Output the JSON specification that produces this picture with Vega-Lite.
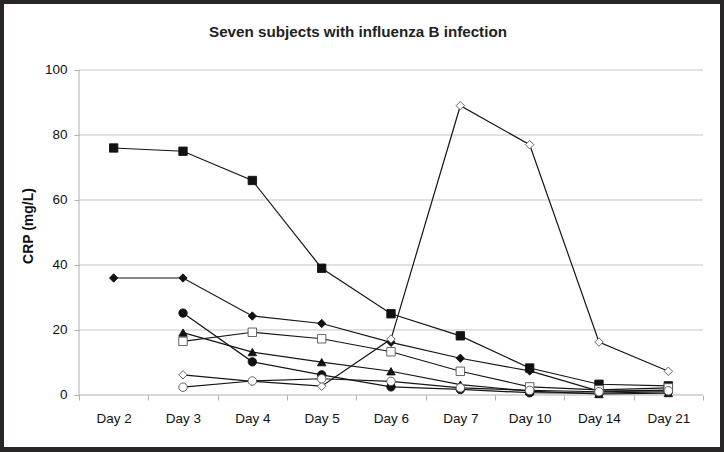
{
  "$schema": "https://vega.github.io/schema/vega-lite/v6.json",
  "width": 716,
  "height": 443,
  "autosize": {"type": "none"},
  "padding": {"left": 4, "top": 4, "right": 4, "bottom": 5},
  "background": "#2a2628",
  "title": {
    "text": "Seven subjects with influenza B infection",
    "anchor": "middle",
    "frame": "group",
    "offset": -48,
    "baseline": "alphabetic",
    "dx": -4,
    "font": "Liberation Sans",
    "fontSize": 15.2,
    "fontWeight": "bold",
    "color": "#222222"
  },
  "config": {
    "view": {"fill": "white", "stroke": null},
    "font": "Liberation Sans"
  },
  "data": {
    "values": [
      {"subject": "A", "day": "Day 2", "crp": 76},
      {"subject": "A", "day": "Day 3", "crp": 75},
      {"subject": "A", "day": "Day 4", "crp": 66},
      {"subject": "A", "day": "Day 5", "crp": 39},
      {"subject": "A", "day": "Day 6", "crp": 25},
      {"subject": "A", "day": "Day 7", "crp": 18.2},
      {"subject": "A", "day": "Day 10", "crp": 8.3},
      {"subject": "A", "day": "Day 14", "crp": 3.3},
      {"subject": "A", "day": "Day 21", "crp": 2.8},
      {"subject": "B", "day": "Day 2", "crp": 36},
      {"subject": "B", "day": "Day 3", "crp": 36},
      {"subject": "B", "day": "Day 4", "crp": 24.3},
      {"subject": "B", "day": "Day 5", "crp": 22},
      {"subject": "B", "day": "Day 6", "crp": 16.2},
      {"subject": "B", "day": "Day 7", "crp": 11.3},
      {"subject": "B", "day": "Day 10", "crp": 7.4},
      {"subject": "B", "day": "Day 14", "crp": 1.2},
      {"subject": "B", "day": "Day 21", "crp": 1.5},
      {"subject": "C", "day": "Day 3", "crp": 25.2},
      {"subject": "C", "day": "Day 4", "crp": 10.2},
      {"subject": "C", "day": "Day 5", "crp": 6.2},
      {"subject": "C", "day": "Day 6", "crp": 2.5},
      {"subject": "C", "day": "Day 7", "crp": 1.7},
      {"subject": "C", "day": "Day 10", "crp": 0.7},
      {"subject": "C", "day": "Day 14", "crp": 0.6},
      {"subject": "C", "day": "Day 21", "crp": 1.0},
      {"subject": "D", "day": "Day 3", "crp": 19.2},
      {"subject": "D", "day": "Day 4", "crp": 13.2},
      {"subject": "D", "day": "Day 5", "crp": 10.1},
      {"subject": "D", "day": "Day 6", "crp": 7.3},
      {"subject": "D", "day": "Day 7", "crp": 3.2},
      {"subject": "D", "day": "Day 10", "crp": 1.2},
      {"subject": "D", "day": "Day 14", "crp": 0.3},
      {"subject": "D", "day": "Day 21", "crp": 0.6},
      {"subject": "E", "day": "Day 3", "crp": 16.5},
      {"subject": "E", "day": "Day 4", "crp": 19.3},
      {"subject": "E", "day": "Day 5", "crp": 17.3},
      {"subject": "E", "day": "Day 6", "crp": 13.3},
      {"subject": "E", "day": "Day 7", "crp": 7.3},
      {"subject": "E", "day": "Day 10", "crp": 2.5},
      {"subject": "E", "day": "Day 14", "crp": 1.6},
      {"subject": "E", "day": "Day 21", "crp": 2.2},
      {"subject": "F", "day": "Day 3", "crp": 6.2},
      {"subject": "F", "day": "Day 4", "crp": 4.2},
      {"subject": "F", "day": "Day 5", "crp": 2.7},
      {"subject": "F", "day": "Day 6", "crp": 17.2},
      {"subject": "F", "day": "Day 7", "crp": 89},
      {"subject": "F", "day": "Day 10", "crp": 77},
      {"subject": "F", "day": "Day 14", "crp": 16.3},
      {"subject": "F", "day": "Day 21", "crp": 7.3},
      {"subject": "G", "day": "Day 3", "crp": 2.4},
      {"subject": "G", "day": "Day 4", "crp": 4.3},
      {"subject": "G", "day": "Day 5", "crp": 5.0},
      {"subject": "G", "day": "Day 6", "crp": 4.2},
      {"subject": "G", "day": "Day 7", "crp": 2.2},
      {"subject": "G", "day": "Day 10", "crp": 1.4},
      {"subject": "G", "day": "Day 14", "crp": 1.0},
      {"subject": "G", "day": "Day 21", "crp": 1.3}
    ]
  },
  "resolve": {"scale": {"x": "shared", "y": "shared"}},
  "layer": [
    {
      "data": {"values": [{}]},
      "mark": {"type": "rule", "color": "#c4c4c4", "strokeWidth": 1},
      "encoding": {
        "x": {"datum": "Day 2", "type": "ordinal", "bandPosition": 0},
        "x2": {"datum": "Day 21", "bandPosition": 1},
        "y": {"datum": 20, "type": "quantitative"}
      }
    },
    {
      "data": {"values": [{}]},
      "mark": {"type": "rule", "color": "#c4c4c4", "strokeWidth": 1},
      "encoding": {
        "x": {"datum": "Day 2", "type": "ordinal", "bandPosition": 0},
        "x2": {"datum": "Day 21", "bandPosition": 1},
        "y": {"datum": 40, "type": "quantitative"}
      }
    },
    {
      "data": {"values": [{}]},
      "mark": {"type": "rule", "color": "#c4c4c4", "strokeWidth": 1},
      "encoding": {
        "x": {"datum": "Day 2", "type": "ordinal", "bandPosition": 0},
        "x2": {"datum": "Day 21", "bandPosition": 1},
        "y": {"datum": 60, "type": "quantitative"}
      }
    },
    {
      "data": {"values": [{}]},
      "mark": {"type": "rule", "color": "#c4c4c4", "strokeWidth": 1},
      "encoding": {
        "x": {"datum": "Day 2", "type": "ordinal", "bandPosition": 0},
        "x2": {"datum": "Day 21", "bandPosition": 1},
        "y": {"datum": 80, "type": "quantitative"}
      }
    },
    {
      "data": {"values": [{}]},
      "mark": {"type": "rule", "color": "#c4c4c4", "strokeWidth": 1},
      "encoding": {
        "x": {"datum": "Day 2", "type": "ordinal", "bandPosition": 0},
        "x2": {"datum": "Day 21", "bandPosition": 1},
        "y": {"datum": 100, "type": "quantitative"}
      }
    },
    {
      "data": {"values": [{}]},
      "mark": {"type": "rule", "color": "#b0b0b0", "strokeWidth": 1},
      "encoding": {
        "x": {"datum": "Day 2", "type": "ordinal", "bandPosition": 0},
        "x2": {"datum": "Day 21", "bandPosition": 1},
        "y": {"datum": 0, "type": "quantitative"}
      }
    },
    {
      "data": {"values": [{}]},
      "mark": {"type": "rule", "color": "#b0b0b0", "strokeWidth": 1},
      "encoding": {
        "x": {"datum": "Day 2", "type": "ordinal", "bandPosition": 0},
        "y": {"datum": 0, "type": "quantitative"},
        "y2": {"datum": 100}
      }
    },
    {
      "mark": {"type": "line", "color": "#151515", "strokeWidth": 1.2},
      "encoding": {
        "x": {"field": "day", "type": "ordinal", "bandPosition": 0.5},
        "y": {"field": "crp", "type": "quantitative"},
        "detail": {"field": "subject", "type": "nominal"}
      }
    },
    {
      "mark": {"type": "point", "filled": true, "opacity": 1, "strokeWidth": 0.9},
      "encoding": {
        "x": {
          "field": "day",
          "type": "ordinal",
          "bandPosition": 0.5,
          "sort": ["Day 2", "Day 3", "Day 4", "Day 5", "Day 6", "Day 7", "Day 10", "Day 14", "Day 21"],
          "scale": {
            "type": "band",
            "domain": ["Day 2", "Day 3", "Day 4", "Day 5", "Day 6", "Day 7", "Day 10", "Day 14", "Day 21"],
            "paddingInner": 0,
            "paddingOuter": 0.6635,
            "align": 0.8152
          },
          "axis": {
            "orient": "bottom",
            "offset": -52,
            "title": null,
            "domain": false,
            "grid": false,
            "tickBand": "extent",
            "tickSize": 5,
            "tickColor": "#b0b0b0",
            "labelPadding": 18,
            "labelAlign": "center",
            "labelFontSize": 13.5,
            "labelColor": "#111111",
            "labelAngle": 0,
            "labelFont": "Liberation Sans"
          }
        },
        "y": {
          "field": "crp",
          "type": "quantitative",
          "scale": {"domain": [-16, 120.3], "nice": false, "zero": false},
          "axis": {
            "orient": "left",
            "offset": -75,
            "values": [0, 20, 40, 60, 80, 100],
            "domain": false,
            "grid": false,
            "tickSize": 5,
            "tickColor": "#b0b0b0",
            "labelPadding": 7,
            "labelFontSize": 13.5,
            "labelColor": "#111111",
            "labelFont": "Liberation Sans",
            "title": "CRP (mg/L)",
            "titleFont": "Liberation Sans",
            "titleFontSize": 14,
            "titleFontWeight": "bold",
            "titleColor": "#111111",
            "titlePadding": 9
          }
        },
        "shape": {
          "field": "subject",
          "type": "nominal",
          "scale": {
            "domain": ["A", "B", "C", "D", "E", "F", "G"],
            "range": ["square", "diamond", "circle", "triangle-up", "square", "diamond", "circle"]
          },
          "legend": null
        },
        "fill": {
          "field": "subject",
          "type": "nominal",
          "scale": {
            "domain": ["A", "B", "C", "D", "E", "F", "G"],
            "range": ["#111111", "#111111", "#111111", "#111111", "#ffffff", "#ffffff", "#ffffff"]
          },
          "legend": null
        },
        "stroke": {
          "field": "subject",
          "type": "nominal",
          "scale": {
            "domain": ["A", "B", "C", "D", "E", "F", "G"],
            "range": ["#111111", "#111111", "#111111", "#111111", "#555555", "#555555", "#555555"]
          },
          "legend": null
        },
        "size": {
          "field": "subject",
          "type": "nominal",
          "scale": {
            "domain": ["A", "B", "C", "D", "E", "F", "G"],
            "range": [70, 72, 80, 72, 64, 66, 75]
          },
          "legend": null
        }
      }
    }
  ]
}
